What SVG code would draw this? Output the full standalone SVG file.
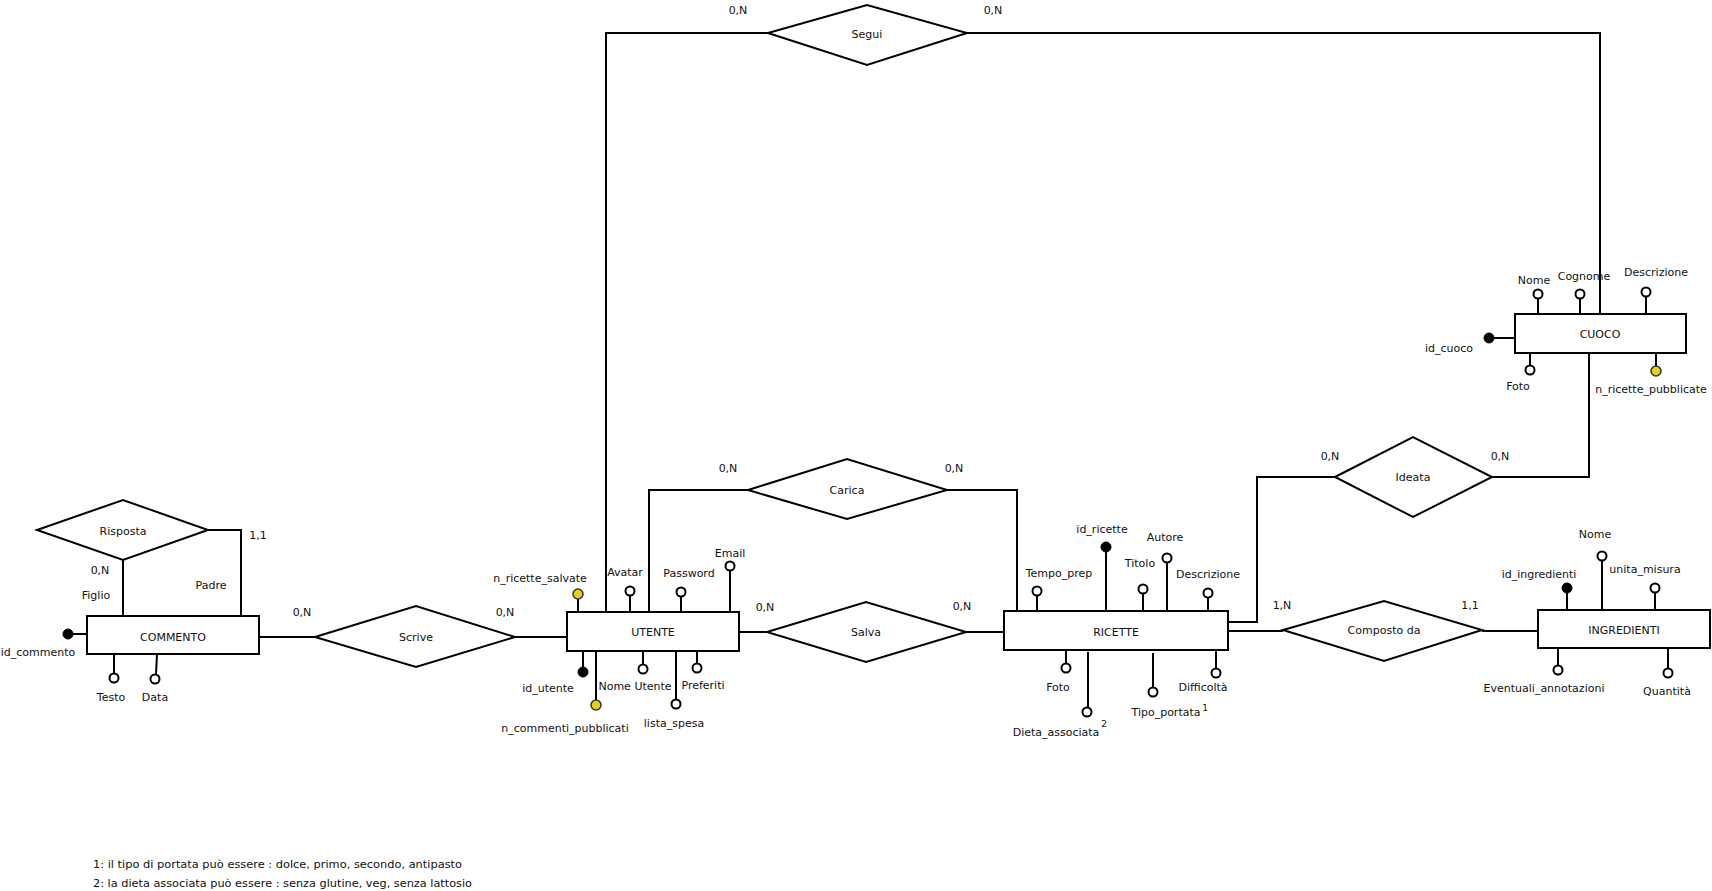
<svg xmlns="http://www.w3.org/2000/svg" width="1712" height="891" viewBox="0 0 1712 891">
  <style>
    text { font-family: "DejaVu Sans", Verdana, sans-serif; font-size: 11px; fill: #111; text-anchor: middle; }
    .ent { fill: #fff; stroke: #000; stroke-width: 2; }
    .rel { fill: #fff; stroke: #000; stroke-width: 2; }
    .wire { fill: none; stroke: #000; stroke-width: 2; }
    .att { stroke: #000; stroke-width: 2; }
    .open { fill: #fff; stroke: #000; stroke-width: 2; }
    .key { fill: #000; stroke: #000; stroke-width: 1; }
    .der { fill: #e3cf1c; stroke: #333; stroke-width: 1.5; }
    .note { text-anchor: start; font-size: 10px; }
    .sup { font-size: 9px; }
  </style>
  <rect width="1712" height="891" fill="#fff"/>

  <!-- relationship links -->
  <g id="connectors">
    <path class="wire" d="M208,530 H241 V616"/>
    <path class="wire" d="M123,560 V616"/>
    <path class="wire" d="M259,637 H315"/>
    <path class="wire" d="M515,637 H567"/>
    <path class="wire" d="M606,612 V33 H768"/>
    <path class="wire" d="M967,33 H1600 V314"/>
    <path class="wire" d="M649,612 V490 H748"/>
    <path class="wire" d="M947,490 H1017 V611"/>
    <path class="wire" d="M739,632 H767"/>
    <path class="wire" d="M966,632 H1004"/>
    <path class="wire" d="M1228,622 H1257 V477 H1335"/>
    <path class="wire" d="M1492,477 H1589 V353"/>
    <path class="wire" d="M1228,631 H1283"/>
    <path class="wire" d="M1482,631 H1538"/>
  </g>

  <!-- relationships -->
  <g id="risposta">
    <polygon class="rel" points="37,530 123,500 208,530 123,560"/>
    <text x="123" y="535">Risposta</text>
    <text x="100" y="574">0,N</text>
    <text x="96" y="599">Figlio</text>
    <text x="258" y="539">1,1</text>
    <text x="211" y="589">Padre</text>
  </g>
  <g id="scrive">
    <polygon class="rel" points="315,637 416,606 515,637 416,667"/>
    <text x="416" y="641">Scrive</text>
    <text x="302" y="616">0,N</text>
    <text x="505" y="616">0,N</text>
  </g>
  <g id="segui">
    <polygon class="rel" points="768,33 867,5 967,33 867,65"/>
    <text x="867" y="38">Segui</text>
    <text x="738" y="14">0,N</text>
    <text x="993" y="14">0,N</text>
  </g>
  <g id="carica">
    <polygon class="rel" points="748,490 847,459 947,490 847,519"/>
    <text x="847" y="494">Carica</text>
    <text x="728" y="472">0,N</text>
    <text x="954" y="472">0,N</text>
  </g>
  <g id="salva">
    <polygon class="rel" points="767,632 866,602 966,632 866,662"/>
    <text x="866" y="636">Salva</text>
    <text x="765" y="611">0,N</text>
    <text x="962" y="610">0,N</text>
  </g>
  <g id="ideata">
    <polygon class="rel" points="1335,477 1413,437 1492,477 1413,517"/>
    <text x="1413" y="481">Ideata</text>
    <text x="1330" y="460">0,N</text>
    <text x="1500" y="460">0,N</text>
  </g>
  <g id="composto-da">
    <polygon class="rel" points="1283,630 1384,601 1482,630 1384,661"/>
    <text x="1384" y="634">Composto da</text>
    <text x="1282" y="609">1,N</text>
    <text x="1470" y="609">1,1</text>
  </g>

  <!-- entities -->
  <g id="commento">
    <rect class="ent" x="87" y="616" width="172" height="38"/>
    <text x="173" y="641">COMMENTO</text>
    <line class="att" x1="73" y1="634" x2="87" y2="634"/>
    <circle class="key" cx="68" cy="634" r="5"/>
    <text x="38" y="656">id_commento</text>
    <line class="att" x1="114" y1="654" x2="114" y2="673"/>
    <circle class="open" cx="114" cy="678" r="4.5"/>
    <text x="111" y="701">Testo</text>
    <line class="att" x1="157" y1="654" x2="156" y2="674"/>
    <circle class="open" cx="155" cy="679" r="4.5"/>
    <text x="155" y="701">Data</text>
  </g>

  <g id="utente">
    <rect class="ent" x="567" y="612" width="172" height="39"/>
    <text x="653" y="636">UTENTE</text>
    <line class="att" x1="578" y1="599" x2="578" y2="612"/>
    <circle class="der" cx="578" cy="594" r="5"/>
    <text x="540" y="582">n_ricette_salvate</text>
    <line class="att" x1="630" y1="596" x2="630" y2="612"/>
    <circle class="open" cx="630" cy="591" r="4.5"/>
    <text x="625" y="576">Avatar</text>
    <line class="att" x1="681" y1="597" x2="681" y2="612"/>
    <circle class="open" cx="681" cy="592" r="4.5"/>
    <text x="689" y="577">Password</text>
    <line class="att" x1="730" y1="571" x2="730" y2="612"/>
    <circle class="open" cx="730" cy="566" r="4.5"/>
    <text x="730" y="557">Email</text>
    <line class="att" x1="583" y1="651" x2="583" y2="667"/>
    <circle class="key" cx="583" cy="672" r="5"/>
    <text x="548" y="692">id_utente</text>
    <line class="att" x1="596" y1="651" x2="596" y2="700"/>
    <circle class="der" cx="596" cy="705" r="5"/>
    <text x="565" y="732">n_commenti_pubblicati</text>
    <line class="att" x1="643" y1="651" x2="643" y2="664"/>
    <circle class="open" cx="643" cy="669" r="4.5"/>
    <text x="635" y="690">Nome Utente</text>
    <line class="att" x1="676" y1="651" x2="676" y2="699"/>
    <circle class="open" cx="676" cy="704" r="4.5"/>
    <text x="674" y="727">lista_spesa</text>
    <line class="att" x1="697" y1="651" x2="697" y2="663"/>
    <circle class="open" cx="697" cy="668" r="4.5"/>
    <text x="703" y="689">Preferiti</text>
  </g>

  <g id="ricette">
    <rect class="ent" x="1004" y="611" width="224" height="39"/>
    <text x="1116" y="636">RICETTE</text>
    <line class="att" x1="1037" y1="596" x2="1037" y2="611"/>
    <circle class="open" cx="1037" cy="591" r="4.5"/>
    <text x="1059" y="577">Tempo_prep</text>
    <line class="att" x1="1106" y1="552" x2="1106" y2="611"/>
    <circle class="key" cx="1106" cy="547" r="5"/>
    <text x="1102" y="533">id_ricette</text>
    <line class="att" x1="1143" y1="594" x2="1143" y2="611"/>
    <circle class="open" cx="1143" cy="589" r="4.5"/>
    <text x="1140" y="567">Titolo</text>
    <line class="att" x1="1167" y1="563" x2="1167" y2="611"/>
    <circle class="open" cx="1167" cy="558" r="4.5"/>
    <text x="1165" y="541">Autore</text>
    <line class="att" x1="1208" y1="598" x2="1208" y2="611"/>
    <circle class="open" cx="1208" cy="593" r="4.5"/>
    <text x="1208" y="578">Descrizione</text>
    <line class="att" x1="1066" y1="650" x2="1066" y2="663"/>
    <circle class="open" cx="1066" cy="668" r="4.5"/>
    <text x="1058" y="691">Foto</text>
    <line class="att" x1="1088" y1="652" x2="1088" y2="707"/>
    <circle class="open" cx="1087" cy="712" r="4.5"/>
    <text x="1056" y="736">Dieta_associata</text>
    <text class="sup" x="1104" y="727">2</text>
    <line class="att" x1="1153" y1="653" x2="1153" y2="687"/>
    <circle class="open" cx="1153" cy="692" r="4.5"/>
    <text x="1166" y="716">Tipo_portata</text>
    <text class="sup" x="1205" y="711">1</text>
    <line class="att" x1="1216" y1="650" x2="1216" y2="668"/>
    <circle class="open" cx="1216" cy="673" r="4.5"/>
    <text x="1203" y="691">Difficoltà</text>
  </g>

  <g id="ingredienti">
    <rect class="ent" x="1538" y="610" width="172" height="38"/>
    <text x="1624" y="634">INGREDIENTI</text>
    <line class="att" x1="1567" y1="593" x2="1567" y2="610"/>
    <circle class="key" cx="1567" cy="588" r="5"/>
    <text x="1539" y="578">id_ingredienti</text>
    <line class="att" x1="1602" y1="561" x2="1602" y2="610"/>
    <circle class="open" cx="1602" cy="556" r="4.5"/>
    <text x="1595" y="538">Nome</text>
    <line class="att" x1="1655" y1="593" x2="1655" y2="610"/>
    <circle class="open" cx="1655" cy="588" r="4.5"/>
    <text x="1645" y="573">unita_misura</text>
    <line class="att" x1="1558" y1="648" x2="1558" y2="665"/>
    <circle class="open" cx="1558" cy="670" r="4.5"/>
    <text x="1544" y="692">Eventuali_annotazioni</text>
    <line class="att" x1="1668" y1="648" x2="1668" y2="668"/>
    <circle class="open" cx="1668" cy="673" r="4.5"/>
    <text x="1667" y="695">Quantità</text>
  </g>

  <g id="cuoco">
    <rect class="ent" x="1515" y="314" width="171" height="39"/>
    <text x="1600" y="338">CUOCO</text>
    <line class="att" x1="1538" y1="299" x2="1538" y2="314"/>
    <circle class="open" cx="1538" cy="294" r="4.5"/>
    <text x="1534" y="284">Nome</text>
    <line class="att" x1="1580" y1="299" x2="1580" y2="314"/>
    <circle class="open" cx="1580" cy="294" r="4.5"/>
    <text x="1584" y="280">Cognome</text>
    <line class="att" x1="1646" y1="297" x2="1646" y2="314"/>
    <circle class="open" cx="1646" cy="292" r="4.5"/>
    <text x="1656" y="276">Descrizione</text>
    <line class="att" x1="1494" y1="338" x2="1515" y2="338"/>
    <circle class="key" cx="1489" cy="338" r="5"/>
    <text x="1449" y="352">id_cuoco</text>
    <line class="att" x1="1530" y1="353" x2="1530" y2="365"/>
    <circle class="open" cx="1530" cy="370" r="4.5"/>
    <text x="1518" y="390">Foto</text>
    <line class="att" x1="1656" y1="353" x2="1656" y2="366"/>
    <circle class="der" cx="1656" cy="371" r="5"/>
    <text x="1651" y="393">n_ricette_pubblicate</text>
  </g>

  <!-- footnotes -->
  <g id="notes">
    <text class="note" x="93" y="868" textLength="369" lengthAdjust="spacingAndGlyphs">1: il tipo di portata può essere : dolce, primo, secondo, antipasto</text>
    <text class="note" x="93" y="887" textLength="379" lengthAdjust="spacingAndGlyphs">2: la dieta associata può essere : senza glutine, veg, senza lattosio</text>
  </g>
</svg>
